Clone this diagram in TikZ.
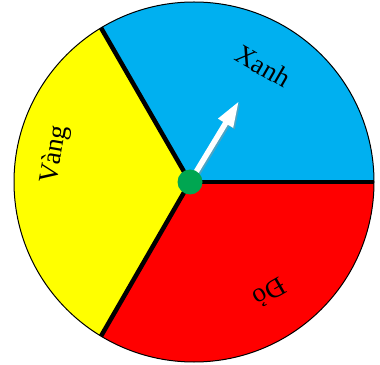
\documentclass[tikz,border=0pt]{standalone}
\usepackage{fontspec}
\setmainfont{Liberation Serif}
\usetikzlibrary{arrows.meta,calc}
\definecolor{WheelBlue}{RGB}{0,176,240}
\definecolor{WheelYellow}{RGB}{255,255,0}
\definecolor{WheelRed}{RGB}{255,0,0}
\definecolor{HubGreen}{RGB}{0,166,81}
\tikzset{
  rim/.style={draw=black,line width=1pt},
  divider/.style={line width=4.5pt,black},
  hub/.style={circle,fill=HubGreen,minimum size=25pt,inner sep=0pt},
  sectortext/.style={font=\fontsize{27}{29}\selectfont,inner sep=0pt},
  needle/.style={-{Triangle[length=26pt,width=16pt]},line width=5.5pt,white}
}

\begin{document}
\begin{tikzpicture}[x=1pt,y=1pt]
  \useasboundingbox (0,0) rectangle (380,364);
  \coordinate (c) at (194,182);
  \coordinate (o) at (190,182);
  \coordinate (rimR) at ($(o)+(0:184)$);
  \coordinate (rimA) at ($(o)+(120:178)$);
  \coordinate (rimB) at ($(o)+(240:178)$);
  \coordinate (tip) at (239,263);
  % sectors
  \begin{scope}
    \clip (c) circle[radius=180];
    \fill[WheelBlue] (o) -- ($(o)+(0:400)$) -- ($(o)+(60:400)$) -- ($(o)+(120:400)$) -- cycle;
    \fill[WheelYellow] (o) -- ($(o)+(120:400)$) -- ($(o)+(180:400)$) -- ($(o)+(240:400)$) -- cycle;
    \fill[WheelRed] (o) -- ($(o)+(240:400)$) -- ($(o)+(300:400)$) -- ($(o)+(360:400)$) -- cycle;
  \end{scope}
  \draw[rim] (c) circle[radius=180];
  \draw[divider] (o) -- (rimR);
  \draw[divider] (o) -- (rimA);
  \draw[divider] (o) -- (rimB);
  % labels
  \node[sectortext,rotate=-30] (xanh) at (263,298) {Xanh};
  \node[sectortext,rotate=80] (vang) at (55,209) {Vàng};
  \node[sectortext,rotate=210] (do) at (270,71) {Đỏ};
  % needle
  \draw[needle,black!40,opacity=0.5] ([shift={(1.5,-1.5)}]o) -- ([shift={(1.5,-1.5)}]tip);
  \draw[needle] (o) -- (tip);
  \node[hub] (pin) at (o) {};
\end{tikzpicture}
\end{document}
